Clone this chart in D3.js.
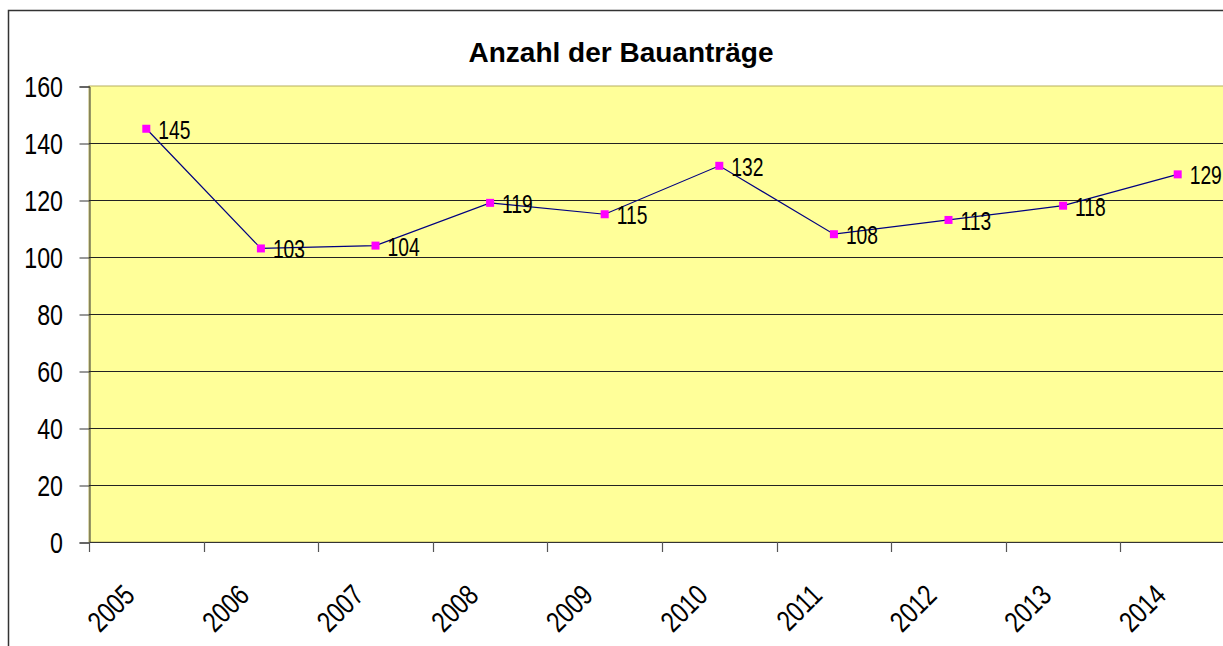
<!DOCTYPE html>
<html>
<head>
<meta charset="utf-8">
<script src="https://cdn.jsdelivr.net/npm/d3@7"></script>
<style>
  html, body { margin: 0; padding: 0; background: #ffffff; }
  svg { display: block; }
</style>
</head>
<body>
<svg id="chart" width="1223" height="646"></svg>
<script>
const title = "Anzahl der Bauanträge";
const years = ["2005","2006","2007","2008","2009","2010","2011","2012","2013","2014"];
const values = [145, 103, 104, 119, 115, 132, 108, 113, 118, 129];
const yTicks = [0, 20, 40, 60, 80, 100, 120, 140, 160];

const svg = d3.select("#chart");
const W = 1223, H = 646;
const plot = { left: 89, top: 86, right: 1235, bottom: 542 };
const font = "'Liberation Sans', Arial, sans-serif";
const SX = 0.8; // horizontal condensing like the original

// outer chart border
svg.append("rect")
  .attr("x", 8.5).attr("y", 10.5)
  .attr("width", W + 20).attr("height", H + 20)
  .attr("fill", "#ffffff").attr("stroke", "#333333").attr("stroke-width", 1.5);

const x = d3.scaleBand().domain(years).range([plot.left, plot.right]).padding(0);
const y = d3.scaleLinear().domain([0, 160]).range([plot.bottom, plot.top]);

// plot area
svg.append("rect")
  .attr("x", plot.left).attr("y", plot.top)
  .attr("width", plot.right - plot.left).attr("height", plot.bottom - plot.top)
  .attr("fill", "#FFFF99").attr("stroke", "#b8b060").attr("stroke-width", 1);

// gridlines
svg.append("g").selectAll("line")
  .data(yTicks.filter(d => d > 0 && d < 160))
  .join("line")
  .attr("x1", plot.left).attr("x2", plot.right)
  .attr("y1", d => Math.round(y(d)) + 0.5).attr("y2", d => Math.round(y(d)) + 0.5)
  .attr("stroke", "#222222").attr("stroke-width", 1);

// y axis (ticks via d3 axis, labels condensed)
const yAxis = d3.axisLeft(y).tickValues(yTicks).tickSize(10).tickFormat("");
const gy = svg.append("g").attr("transform", `translate(${plot.left + 0.5},0.5)`).call(yAxis);
gy.select(".domain").attr("stroke", "#333333");
gy.selectAll(".tick line").attr("stroke", "#333333");
svg.append("g").selectAll("text")
  .data(yTicks)
  .join("text")
  .attr("transform", d => `translate(63,${y(d) + 10.5}) scale(${SX},1)`)
  .attr("text-anchor", "end")
  .attr("font-family", font).attr("font-size", 29).attr("fill", "#000")
  .text(d => d3.format("d")(d));

// x axis baseline
svg.append("line")
  .attr("x1", plot.left).attr("x2", plot.right)
  .attr("y1", plot.bottom + 0.5).attr("y2", plot.bottom + 0.5)
  .attr("stroke", "#333333").attr("stroke-width", 1);

// x ticks at category boundaries
const boundaries = years.map(d => x(d)).concat([x(years[years.length - 1]) + x.bandwidth()]);
svg.append("g").selectAll("line")
  .data(boundaries)
  .join("line")
  .attr("x1", d => Math.round(d) + 0.5).attr("x2", d => Math.round(d) + 0.5)
  .attr("y1", plot.bottom).attr("y2", plot.bottom + 10)
  .attr("stroke", "#555555").attr("stroke-width", 1.2);

// x labels rotated
svg.append("g").selectAll("text")
  .data(years)
  .join("text")
  .attr("transform", d => `translate(${x(d) + x.bandwidth() / 2 - 10},${plot.bottom + 55}) rotate(-45) scale(${SX},1)`)
  .attr("text-anchor", "end")
  .attr("font-family", font).attr("font-size", 29).attr("fill", "#000")
  .text(d => d);

// line
const cx = d => x(d) + x.bandwidth() / 2;
const line = d3.line().x((d, i) => cx(years[i])).y(d => y(d));
svg.append("path")
  .datum(values)
  .attr("d", line)
  .attr("fill", "none").attr("stroke", "#000080").attr("stroke-width", 1.2);

// markers
svg.append("g").selectAll("rect")
  .data(values)
  .join("rect")
  .attr("x", (d, i) => cx(years[i]) - 4).attr("y", d => y(d) - 4)
  .attr("width", 8).attr("height", 8)
  .attr("fill", "#FF00FF");

// data labels
svg.append("g").selectAll("text")
  .data(values)
  .join("text")
  .attr("transform", (d, i) => `translate(${cx(years[i]) + 12},${y(d) + 10}) scale(0.77,1)`)
  .attr("font-family", font).attr("font-size", 25).attr("fill", "#000")
  .text(d => d);

// title
svg.append("text")
  .attr("x", 621).attr("y", 62)
  .attr("text-anchor", "middle")
  .attr("font-family", font)
  .attr("font-weight", "bold").attr("font-size", 28)
  .attr("fill", "#000")
  .text(title);
</script>
</body>
</html>
